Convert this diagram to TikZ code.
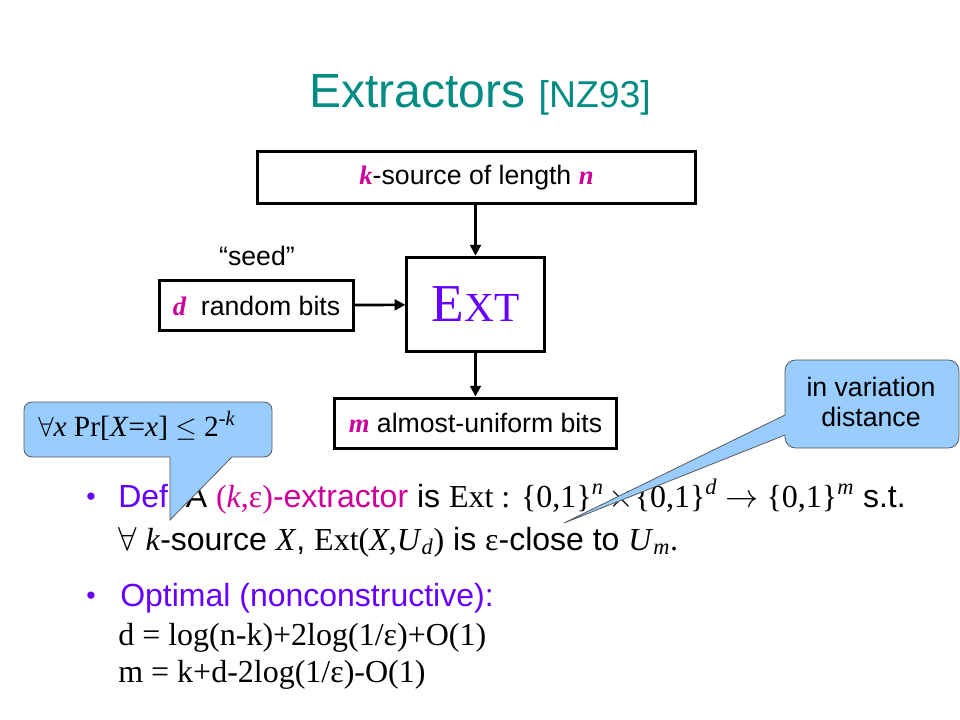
\documentclass[tikz,border=0pt]{standalone}
\usepackage{fontspec}
\setmainfont{Liberation Serif}
\setsansfont{Liberation Sans}
\usetikzlibrary{arrows.meta, calc}

\definecolor{titleteal}{RGB}{0,140,130}
\definecolor{defpurple}{RGB}{102,0,255}
\definecolor{varmag}{RGB}{204,0,153}
\definecolor{calloutblue}{RGB}{153,204,255}
\newcommand{\vv}[1]{\textcolor{varmag}{\rmfamily\bfseries\itshape #1}}

\tikzset{
  blk/.style={draw, line width=2.25pt, inner sep=0pt, font=\sffamily\fontsize{20}{24}\selectfont},
  flow/.style={line width=2pt, -{Triangle[length=8pt,width=8pt]}},
  callout/.style={fill=calloutblue, draw=black!65, line width=0.6pt},
  txt/.style={anchor=base west, inner sep=0pt},
  bigtxt/.style={txt, font=\sffamily\fontsize{24}{28}\selectfont},
  mathtxt/.style={txt, font=\rmfamily\fontsize{24}{28}\selectfont},
}

\begin{document}
\begin{tikzpicture}[x=0.75pt, y=-0.75pt]
    \useasboundingbox (0,0) rectangle (960,720);
    \node[anchor=base, text=titleteal, font=\sffamily\fontsize{36}{40}\selectfont] (title) at (480,108) {Extractors {\fontsize{28}{32}\selectfont[NZ93]}};

    % the block diagram
    \node[blk, minimum width=329pt, minimum height=39pt] (src) at (476.5,178) {\vv{k}-source of length \vv{n}};
    \node[blk, minimum width=103pt, minimum height=71pt, text=defpurple, font=\rmfamily\fontsize{40}{44}\selectfont] (ext) at (475.5,304.5) {E{\fontsize{31}{34}\selectfont XT}};
    \node[blk, minimum width=145pt, minimum height=38pt] (seed) at (256.5,305.5) {\vv{d}\ \ random bits};
    \node[blk, minimum width=212pt, minimum height=37.5pt] (out) at (475.5,423) {\vv{m} almost-uniform bits};
    \node[anchor=base, font=\sffamily\fontsize{20}{24}\selectfont] (seedlbl) at (257,266) {“seed”};
    \draw[flow] (ext.north |- src.south) -- (ext.north);
    \draw[flow] (seed) -- (ext);
    \draw[flow] (ext) -- (out);

    % the bullets
    \node[anchor=base, text=defpurple, font=\sffamily\fontsize{20}{24}\selectfont] (dot1) at (91,505) {•};
    \node[bigtxt] (def) at (118,507) {\textcolor{defpurple}{Def}\ \ A \textcolor{varmag}{{\rmfamily(\textit{k},ε)}-extractor} is {\rmfamily Ext : \{0,1\}\textsuperscript{\textit{n}}\,$\times$\{0,1\}\textsuperscript{\textit{d}} $\rightarrow$ \{0,1\}\textsuperscript{\textit{m}}} s.t.};
    \node[bigtxt] (def2) at (118,550) {$\forall$ {\rmfamily\textit{k}}-source {\rmfamily\textit{X}}, {\rmfamily Ext(\textit{X,U}\textsubscript{\textit{d}})} is {\rmfamily ε}-close to {\rmfamily\textit{U}\textsubscript{\textit{m}}.}};
    \node[anchor=base, text=defpurple, font=\sffamily\fontsize{20}{24}\selectfont] (dot2) at (91,604) {•};
    \node[bigtxt, text=defpurple] (opt) at (120,606) {Optimal (nonconstructive):};
    \node[mathtxt] (dline) at (118,645) {d = log(n-k)+2log(1/ε)+O(1)};
    \node[mathtxt] (mline) at (118,682) {m = k+d-2log(1/ε)-O(1)};

    % the callouts
    \coordinate (pmftip) at (170,520);
    \coordinate (tvdtip) at (564,523);
    \draw[callout] (24,430) [rounded corners=6pt] -- (24,402) -- (272,402) -- (272,457) [sharp corners] -- (232,457) -- (pmftip) -- (170,457) [rounded corners=6pt] -- (24,457) -- cycle;
    \node[mathtxt, font=\rmfamily\fontsize{22}{26}\selectfont] (pmf) at (38,436) {$\forall$\textit{x} Pr[\textit{X}=\textit{x}] $\leq$ 2\textsuperscript{-\textit{k}}};
    \draw[callout] (870,360) [rounded corners=8pt] -- (959,360) -- (959,448) -- (785,448) [sharp corners] -- (785,435) -- (tvdtip) -- (785,415) [rounded corners=8pt] -- (785,360) -- cycle;
    \node[align=center, font=\sffamily\fontsize{20}{23}\selectfont] (tvd) at (871,402) {in variation\\distance};
  \end{tikzpicture}
\end{document}
